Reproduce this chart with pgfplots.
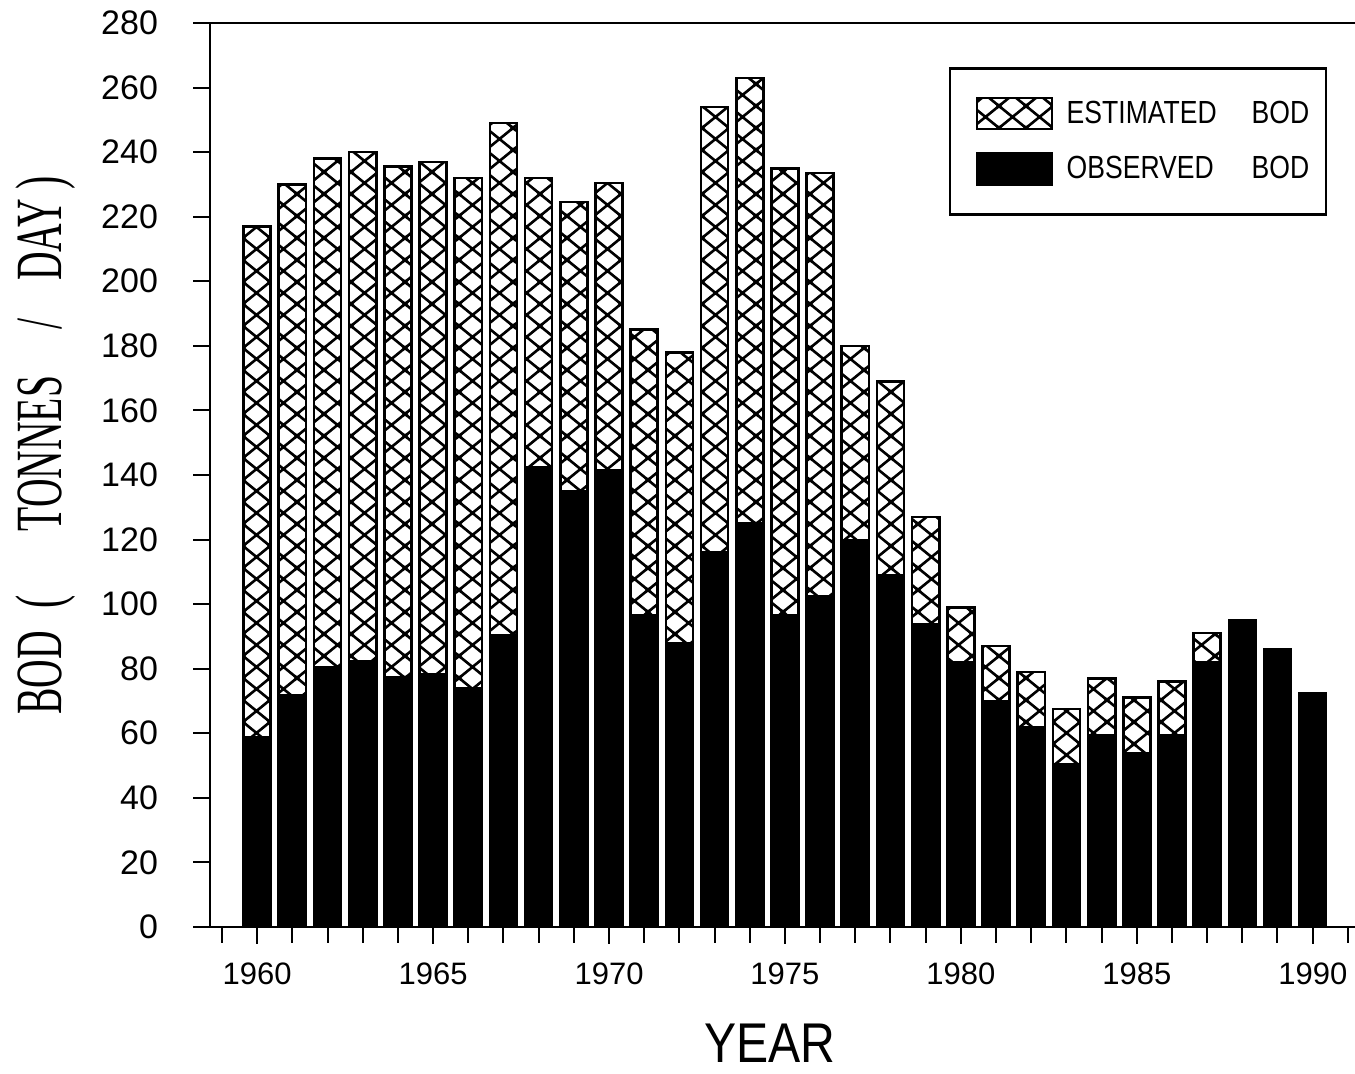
\documentclass[border=0pt]{standalone}
\usepackage{pgfplots}
\pgfplotsset{compat=1.18}
\usepackage{pgfplotstable}
\usepackage{fontspec}
\setmainfont{Liberation Sans}
\newfontfamily\seriffont{Liberation Serif}
\usetikzlibrary{patterns}
\pgfdeclarepatternformonly{bigcross}{\pgfqpoint{-2pt}{-2pt}}{\pgfqpoint{15.5pt}{13pt}}{\pgfqpoint{13.5pt}{11pt}}{%
  \pgfsetlinewidth{1.3pt}%
  \pgfpathmoveto{\pgfqpoint{-1.35pt}{-1.1pt}}\pgfpathlineto{\pgfqpoint{14.85pt}{12.1pt}}%
  \pgfpathmoveto{\pgfqpoint{-1.35pt}{12.1pt}}\pgfpathlineto{\pgfqpoint{14.85pt}{-1.1pt}}%
  \pgfusepath{stroke}}

\pgfplotstableread{
year total
1960 217
1961 230
1962 238
1963 240
1964 235.5
1965 237
1966 232
1967 249
1968 232
1969 224.5
1970 230.5
1971 185
1972 178
1973 254
1974 263
1975 235
1976 233.5
1977 180
1978 169
1979 127
1980 99
1981 87
1982 79
1983 67.5
1984 77
1985 71
1986 76
1987 91
}\totaltab

\pgfplotstableread{
year obs
1960 59
1961 72
1962 80.5
1963 82.5
1964 77.5
1965 78.5
1966 74
1967 90.5
1968 142.5
1969 135
1970 141.5
1971 96.5
1972 88
1973 116
1974 125
1975 96.5
1976 102.5
1977 120
1978 109
1979 94
1980 82
1981 70
1982 62
1983 50.5
1984 59.5
1985 54
1986 59.5
1987 82
1988 95
1989 86
1990 72.5
}\obstab

\begin{document}
\begin{tikzpicture}
\begin{axis}[
  name=ax,
  scale only axis,
  width=572.5pt, height=452pt,
  xmin=1958.66, xmax=1991.2,
  ymin=0, ymax=280,
  ytick={0,20,...,280},
  xtick={1960,1965,...,1990},
  minor xtick={1959,...,1991},
  axis x line*=bottom, axis y line*=left,
  axis line style={-, line width=1.2pt},
  tick align=outside,
  major tick length=8.5pt, minor tick length=8pt,
  every tick/.style={black, line width=1pt},
  /pgf/number format/assume math mode=true,
  /pgf/number format/1000 sep={},
  xticklabel style={font=\fontsize{15.5}{18}\selectfont, yshift=-6pt},
  yticklabel style={font=\fontsize{17}{18}\selectfont, xshift=-14pt},
  ybar, bar width=0.77,
  xlabel={\fontsize{28}{28}\selectfont\scalebox{0.86}[1]{YEAR}},
  xlabel style={at={(rel axis cs:0.489,0)}, anchor=base, yshift=-68pt},
  ylabel={\seriffont\fontsize{33}{33}\selectfont\scalebox{0.6}[1]{BOD\hspace{19pt}(\hspace{53pt}TONNES\hspace{39pt}/\hspace{31pt}DAY\hspace{8pt})}},
  ylabel style={at={(rel axis cs:-0.1432,0.533)}, anchor=center},
  legend style={at={(rel axis cs:0.645,0.951)}, anchor=north west,
    draw=black, line width=1.2pt, fill=white,
    inner xsep=0pt, inner ysep=9pt, row sep=0pt,
    nodes={inner sep=0pt},
    font=\fontsize{16}{16}\selectfont},
  legend cell align=left,
]
\addlegendimage{legend image code/.code={%
  \path[draw=none, fill=none] (-13.5pt,-13.75pt) rectangle (45pt,13.75pt);
  \draw[line width=1pt, pattern=bigcross] (0pt,-7.5pt) rectangle (37.5pt,8pt);}}
\addlegendentry{\makebox[76pt][l]{\scalebox{0.83}[1]{ESTIMATED}}\hspace{16.5pt}\scalebox{0.83}[1]{BOD}\kern8.5pt}
\addlegendimage{legend image code/.code={%
  \path[draw=none, fill=none] (-13.5pt,-13.75pt) rectangle (45pt,13.75pt);
  \fill[black] (0pt,-8pt) rectangle (37.5pt,8pt);}}
\addlegendentry{\makebox[76pt][l]{\scalebox{0.83}[1]{OBSERVED}}\hspace{16.5pt}\scalebox{0.83}[1]{BOD}\kern8.5pt}

\addplot[bar shift=0pt, draw=black, line width=1.3pt, fill=white, pattern=bigcross, forget plot] table[x=year, y=total] {\totaltab};
\addplot[bar shift=0pt, draw=black, line width=1pt, fill=black, forget plot] table[x=year, y=obs] {\obstab};
\draw[line width=1.2pt] ([xshift=-9pt]rel axis cs:0,1) -- (rel axis cs:1,1);
\end{axis}
\pgfresetboundingbox
\path (ax.south west) ++(-105pt,-73.5pt) rectangle ++(677.5pt,537pt);
\end{tikzpicture}
\end{document}
